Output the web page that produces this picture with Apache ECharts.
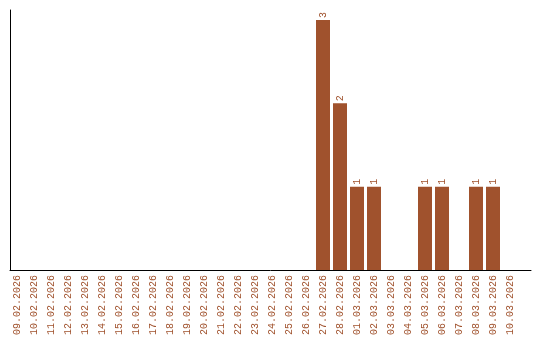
<!DOCTYPE html>
<html><head><meta charset="utf-8">
<script src="https://cdn.jsdelivr.net/npm/echarts@6/dist/echarts.min.js"></script>
<style>html,body{margin:0;padding:0;background:#fff}#c{width:540px;height:340px}</style>
</head><body><div id="c"></div>
<script>
const categories = ['09.02.2026','10.02.2026','11.02.2026','12.02.2026','13.02.2026','14.02.2026','15.02.2026','16.02.2026','17.02.2026','18.02.2026','19.02.2026','20.02.2026','21.02.2026','22.02.2026','23.02.2026','24.02.2026','25.02.2026','26.02.2026','27.02.2026','28.02.2026','01.03.2026','02.03.2026','03.03.2026','04.03.2026','05.03.2026','06.03.2026','07.03.2026','08.03.2026','09.03.2026','10.03.2026'];
const values = [0,0,0,0,0,0,0,0,0,0,0,0,0,0,0,0,0,0,3,2,1,1,0,0,1,1,0,1,1,0];
const BROWN = '#a0522d';
const FONT = 'Liberation Mono';
const chart = echarts.init(document.getElementById('c'));
chart.setOption({
  animation: false,
  grid: [
    {left: 8.5, width: 510, top: 10, bottom: 70},
    {left: 10, right: 9, top: 10, bottom: 70}
  ],
  xAxis: [
    {type: 'category', gridIndex: 0, data: categories,
     axisLine: {show: false}, axisTick: {show: false},
     axisLabel: {rotate: 90, interval: 0, margin: 5, color: BROWN, fontFamily: FONT, fontSize: 10}},
    {type: 'value', gridIndex: 1, min: 0, max: 1,
     axisLine: {show: true, lineStyle: {color: '#000', width: 1}},
     axisTick: {show: false}, axisLabel: {show: false}, splitLine: {show: false}}
  ],
  yAxis: [
    {type: 'value', gridIndex: 0, min: 0, max: 3.12, show: false, splitLine: {show: false}},
    {type: 'value', gridIndex: 1, min: 0, max: 1,
     axisLine: {show: true, lineStyle: {color: '#000', width: 1}},
     axisTick: {show: false}, axisLabel: {show: false}, splitLine: {show: false}}
  ],
  series: [{
    type: 'bar', xAxisIndex: 0, yAxisIndex: 0, data: values, barWidth: 14,
    itemStyle: {color: BROWN},
    label: {show: true, position: 'top', rotate: 90, align: 'left', verticalAlign: 'middle', distance: 2,
      color: BROWN, fontFamily: FONT, fontSize: 10,
      formatter: p => p.value ? String(p.value) : ''}
  }]
});
</script></body></html>
